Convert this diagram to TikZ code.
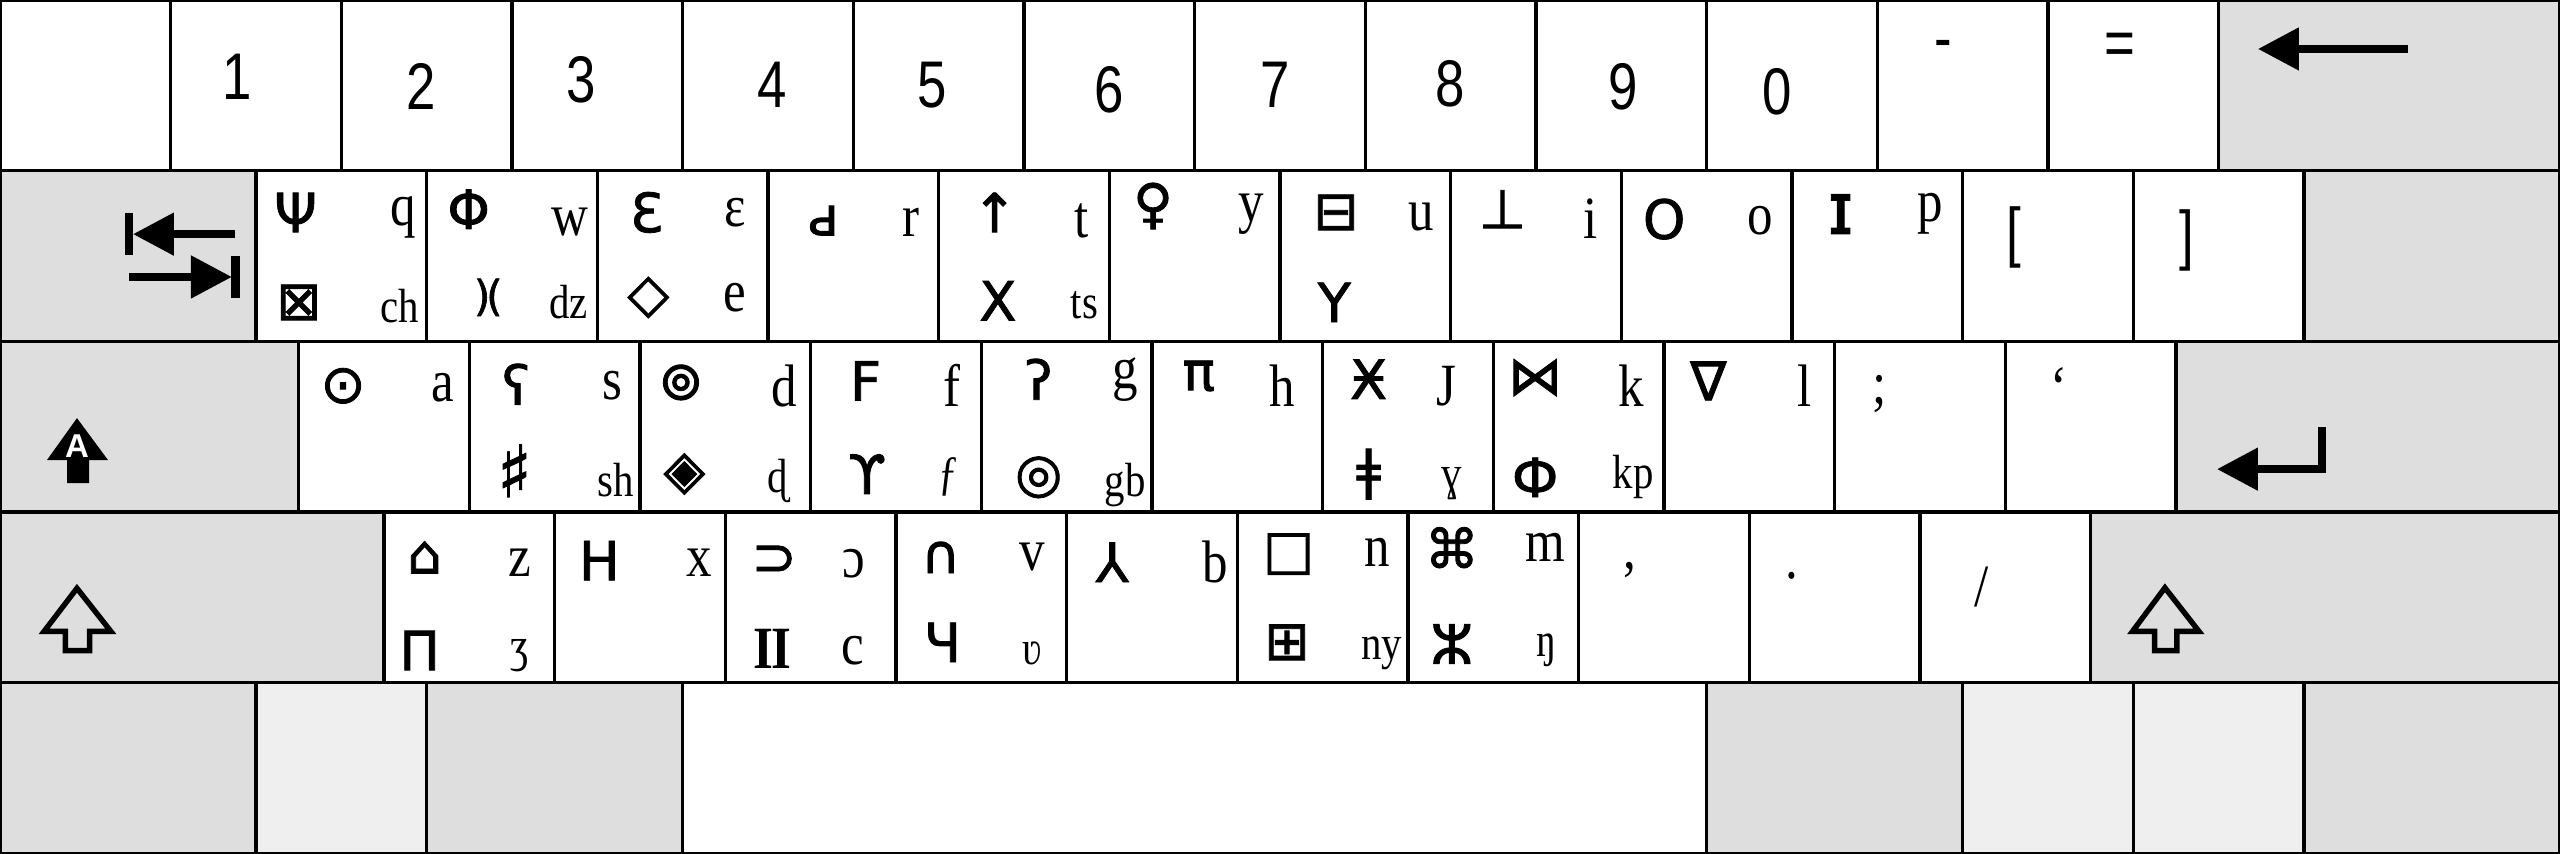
\documentclass[tikz,border=0pt]{standalone}
\usepackage{fontspec}
\setmainfont{Liberation Serif}
\newfontfamily\latfont{Liberation Serif}[FakeStretch=0.85]
\newfontfamily\numfont{Liberation Sans}[FakeStretch=0.8]
\newfontfamily\iconfont{Liberation Sans}
\newfontfamily\glyfont{DejaVu Sans}[FakeBold=1.5]
\usetikzlibrary{arrows.meta}
\definecolor{keygray}{HTML}{DEDEDE}
\definecolor{keylight}{HTML}{EFEFEF}
\tikzset{
  key/.style={draw=black, line width=0.6pt, fill=white, minimum width=1cm,
    minimum height=1cm, inner sep=0pt, outer sep=0pt, anchor=south west},
  modkey/.style={key, fill=keygray},
  litekey/.style={key, fill=keylight},
  num/.style={font=\numfont\fontsize{11}{13}\selectfont, inner sep=0pt},
  lat/.style={font=\latfont\fontsize{10}{12}\selectfont, inner sep=0pt},
  latsm/.style={font=\latfont\fontsize{8}{10}\selectfont, inner sep=0pt},
  gly/.style={font=\glyfont\fontsize{9}{11}\selectfont, inner sep=0pt},
  icon/.style={line width=1.35pt, line join=miter},
  headtip/.style={-{Triangle[length=0.24cm, width=0.24cm]}}
}

\begin{document}
\begin{tikzpicture}

    \useasboundingbox (0,0) rectangle (15,5);

    % Number row
    \node[key] (kGrave) at (0,4) {};
    \node[key] (k1) at (1,4) {};
    \node[key] (k2) at (2,4) {};
    \node[key] (k3) at (3,4) {};
    \node[key] (k4) at (4,4) {};
    \node[key] (k5) at (5,4) {};
    \node[key] (k6) at (6,4) {};
    \node[key] (k7) at (7,4) {};
    \node[key] (k8) at (8,4) {};
    \node[key] (k9) at (9,4) {};
    \node[key] (k0) at (10,4) {};
    \node[key] (kMinus) at (11,4) {};
    \node[key] (kEqual) at (12,4) {};
    \node[modkey, minimum width=2cm] (kBack) at (13,4) {};

    % Top letter row
    \node[modkey, minimum width=1.5cm] (kTab) at (0,3) {};
    \node[key] (kQ) at (1.5,3) {};
    \node[key] (kW) at (2.5,3) {};
    \node[key] (kE) at (3.5,3) {};
    \node[key] (kR) at (4.5,3) {};
    \node[key] (kT) at (5.5,3) {};
    \node[key] (kY) at (6.5,3) {};
    \node[key] (kU) at (7.5,3) {};
    \node[key] (kI) at (8.5,3) {};
    \node[key] (kO) at (9.5,3) {};
    \node[key] (kP) at (10.5,3) {};
    \node[key] (kLbrack) at (11.5,3) {};
    \node[key] (kRbrack) at (12.5,3) {};
    \node[modkey, minimum width=1.5cm] (kBslash) at (13.5,3) {};

    % Home row
    \node[modkey, minimum width=1.75cm] (kCaps) at (0,2) {};
    \node[key] (kA) at (1.75,2) {};
    \node[key] (kS) at (2.75,2) {};
    \node[key] (kD) at (3.75,2) {};
    \node[key] (kF) at (4.75,2) {};
    \node[key] (kG) at (5.75,2) {};
    \node[key] (kH) at (6.75,2) {};
    \node[key] (kJ) at (7.75,2) {};
    \node[key] (kK) at (8.75,2) {};
    \node[key] (kL) at (9.75,2) {};
    \node[key] (kSemi) at (10.75,2) {};
    \node[key] (kQuote) at (11.75,2) {};
    \node[modkey, minimum width=2.25cm] (kEnter) at (12.75,2) {};

    % Bottom letter row
    \node[modkey, minimum width=2.25cm] (kShiftL) at (0,1) {};
    \node[key] (kZ) at (2.25,1) {};
    \node[key] (kX) at (3.25,1) {};
    \node[key] (kC) at (4.25,1) {};
    \node[key] (kV) at (5.25,1) {};
    \node[key] (kB) at (6.25,1) {};
    \node[key] (kN) at (7.25,1) {};
    \node[key] (kM) at (8.25,1) {};
    \node[key] (kComma) at (9.25,1) {};
    \node[key] (kDot) at (10.25,1) {};
    \node[key] (kSlash) at (11.25,1) {};
    \node[modkey, minimum width=2.75cm] (kShiftR) at (12.25,1) {};

    % Space row
    \node[modkey, minimum width=1.5cm] (kCtrlL) at (0,0) {};
    \node[litekey] (kWinL) at (1.5,0) {};
    \node[modkey, minimum width=1.5cm] (kAltL) at (2.5,0) {};
    \node[key, minimum width=6cm] (kSpace) at (4,0) {};
    \node[modkey, minimum width=1.5cm] (kAltR) at (10,0) {};
    \node[litekey] (kWinR) at (11.5,0) {};
    \node[litekey] (kMenu) at (12.5,0) {};
    \node[modkey, minimum width=1.5cm] (kCtrlR) at (13.5,0) {};

    % Digits
    \node[num] (n1) at (1.388,4.550) {1};
    \node[num] (n2) at (2.469,4.492) {2};
    \node[num] (n3) at (3.407,4.531) {3};
    \node[num] (n4) at (4.526,4.502) {4};
    \node[num] (n5) at (5.464,4.502) {5};
    \node[num] (n6) at (6.498,4.473) {6};
    \node[num] (n7) at (7.474,4.502) {7};
    \node[num] (n8) at (8.498,4.511) {8};
    \node[num] (n9) at (9.512,4.492) {9};
    \node[num] (n0) at (10.411,4.464) {0};
    \node[num] (nMinus) at (11.388,4.703) {-};
    \node[num] (nEqual) at (12.421,4.713) {=};

    % Backspace
    \coordinate (bsTail) at (14.11,4.713);
    \coordinate (bsTip) at (13.23,4.713);
    \draw[icon, headtip] (bsTail) -- (bsTip);

    % Tab
    \draw[icon] (0.755,3.752) -- (0.755,3.505);
    \draw[icon, headtip] (1.377,3.628) -- (0.779,3.628);
    \draw[icon, headtip] (0.756,3.377) -- (1.359,3.377);
    \draw[icon] (1.38,3.500) -- (1.38,3.253);

    % Top letter row labels
    \node[gly] (tQ) at (1.732,3.755) {Ψ};
    \node[lat] (lQ) at (2.364,3.726) {q};
    \node[gly] (bQ) at (1.751,3.228) {⊠};
    \node[latsm] (dQ) at (2.344,3.209) {ch};
    \node[gly] (tW) at (2.746,3.774) {Φ};
    \node[lat] (lW) at (3.340,3.697) {w};
    \node[gly, font=\glyfont\fontsize{7}{8}\selectfont] (bW) at (2.861,3.257) {)\kern-0.1em(};
    \node[latsm] (dW) at (3.330,3.228) {dz};
    \node[gly] (tE) at (3.789,3.755) {Ɛ};
    \node[lat] (lE) at (4.306,3.755) {ɛ};
    \node[gly] (bE) at (3.799,3.257) {◇};
    \node[lat] (dE) at (4.306,3.257) {e};
    \node[gly] (tR) at (4.823,3.707) {ԁ};
    \node[lat] (lR) at (5.340,3.697) {r};
    \node[gly] (tT) at (5.828,3.755) {↑};
    \node[lat] (lT) at (6.335,3.707) {t};
    \node[gly] (bT) at (5.847,3.238) {X};
    \node[latsm] (dT) at (6.354,3.209) {ts};
    \node[gly] (tY) at (6.756,3.793) {♀};
    \node[lat] (lY) at (7.330,3.745) {y};
    \node[gly] (tU) at (7.828,3.755) {⊟};
    \node[lat] (lU) at (8.325,3.726) {u};
    \node[gly] (bU) at (7.818,3.228) {Y};
    \node[gly] (tI) at (8.804,3.774) {⊥};
    \node[lat] (lI) at (9.321,3.716) {i};
    \node[gly] (tO) at (9.751,3.716) {O};
    \node[lat] (lO) at (10.316,3.707) {o};
    \node[gly, font=\glyfont\fontsize{12}{13}\selectfont] (tP) at (10.785,3.745) {ɪ};
    \node[lat] (lP) at (11.311,3.745) {p};
    \node[num] (lLbrack) at (11.799,3.611) {[};
    \node[num] (lRbrack) at (12.813,3.592) {]};

    % Caps lock
    \fill (0.451,2.550) -- (0.633,2.304) -- (0.522,2.304) -- (0.522,2.169)
      -- (0.393,2.169) -- (0.393,2.304) -- (0.275,2.304) -- cycle;
    \node[font=\iconfont\bfseries\fontsize{5.5}{6}\selectfont, text=white, inner sep=0pt]
      (capsA) at (0.451,2.385) {A};

    % Home row labels
    \node[gly] (tA) at (2.010,2.739) {⊙};
    \node[lat] (lA) at (2.593,2.730) {a};
    \node[gly] (tS) at (3.024,2.749) {ʕ};
    \node[lat] (lS) at (3.589,2.739) {s};
    \node[gly, font=\glyfont\fontsize{12}{13}\selectfont] (bS) at (3.014,2.241) {♯};
    \node[latsm] (dS) at (3.608,2.184) {sh};
    \node[gly] (tD) at (3.990,2.759) {⊚};
    \node[lat] (lD) at (4.593,2.739) {d};
    \node[gly] (bD) at (4.010,2.222) {◈};
    \node[latsm] (dD) at (4.555,2.184) {ɖ};
    \node[gly] (tF) at (5.072,2.768) {F};
    \node[lat] (lF) at (5.579,2.739) {f};
    \node[gly] (bF) at (5.081,2.222) {ϒ};
    \node[latsm] (dF) at (5.560,2.203) {ƒ};
    \node[gly] (tG) at (6.086,2.778) {ʔ};
    \node[lat] (lG) at (6.593,2.778) {g};
    \node[gly] (bG) at (6.086,2.203) {◎};
    \node[latsm] (dG) at (6.593,2.155) {gb};
    \node[gly] (tH) at (7.024,2.797) {π};
    \node[lat] (lH) at (7.512,2.739) {h};
    \node[gly] (tJ) at (8.019,2.778) {Ӿ};
    \node[lat] (lJ) at (8.478,2.739) {J};
    \node[gly] (bJ) at (8.019,2.222) {ǂ};
    \node[latsm] (dJ) at (8.507,2.165) {ɣ};
    \node[gly] (tK) at (8.995,2.787) {⋈};
    \node[lat] (lK) at (9.560,2.739) {k};
    \node[gly] (bK) at (8.995,2.203) {Ф};
    \node[latsm] (dK) at (9.569,2.203) {kp};
    \node[gly] (tL) at (10.010,2.768) {∇};
    \node[lat] (lL) at (10.574,2.739) {l};
    \node[lat] (lSemi) at (11.014,2.692) {;};
    \node[lat] (lQuote) at (12.067,2.730) {‘};

    % Enter
    \draw[icon, headtip] (13.605,2.497) -- (13.605,2.251) -- (12.99,2.251);

    % Shift keys
    \draw[line width=0.9pt, line join=miter] (0.451,1.553) -- (0.650,1.300) -- (0.525,1.300)
      -- (0.525,1.188) -- (0.383,1.188) -- (0.383,1.300) -- (0.258,1.300) -- cycle;
    \draw[line width=0.9pt, line join=miter] (12.685,1.556) -- (12.885,1.300) -- (12.755,1.300)
      -- (12.755,1.188) -- (12.625,1.188) -- (12.625,1.300) -- (12.495,1.300) -- cycle;

    % Bottom letter row labels
    \node[gly] (tZ) at (2.488,1.734) {⌂};
    \node[lat] (lZ) at (3.043,1.705) {z};
    \node[gly] (bZ) at (2.459,1.188) {Π};
    \node[latsm] (dZ) at (3.043,1.159) {ʒ};
    \node[gly] (tX) at (3.512,1.715) {H};
    \node[lat] (lX) at (4.096,1.705) {x};
    \node[gly] (tC) at (4.536,1.715) {⊃};
    \node[lat] (lC) at (5.005,1.695) {ɔ};
    \node[gly, font=\latfont\bfseries\fontsize{10}{12}\selectfont] (bC) at (4.526,1.197) {I\kern-0.04em I};
    \node[lat] (dC) at (4.995,1.188) {c};
    \node[gly] (tV) at (5.512,1.734) {∩};
    \node[lat] (lV) at (6.048,1.734) {v};
    \node[gly] (bV) at (5.522,1.236) {Ч};
    \node[latsm] (dV) at (6.048,1.169) {ʋ};
    \node[gly] (tB) at (6.517,1.705) {⅄};
    \node[lat] (lB) at (7.120,1.705) {b};
    \node[gly] (tN) at (7.550,1.753) {□};
    \node[lat] (lN) at (8.067,1.762) {n};
    \node[gly] (bN) at (7.541,1.236) {⊞};
    \node[latsm] (dN) at (8.096,1.169) {ny};
    \node[gly] (tM) at (8.507,1.791) {⌘};
    \node[lat] (lM) at (9.053,1.791) {m};
    \node[gly] (bM) at (8.507,1.226) {ⵣ};
    \node[latsm] (dM) at (9.062,1.188) {ŋ};
    \node[lat] (lComma) at (9.550,1.657) {,};
    \node[lat] (lDot) at (10.498,1.626) {.};
    \node[lat] (lSlash) at (11.608,1.559) {/};

\end{tikzpicture}
\end{document}
